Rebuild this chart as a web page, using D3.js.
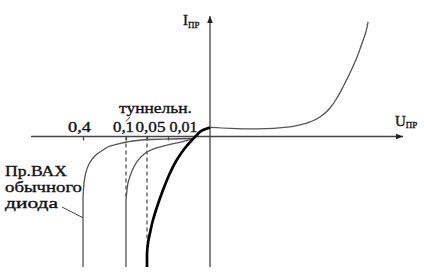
<!DOCTYPE html>
<html>
<head>
<meta charset="utf-8">
<script src="https://cdn.jsdelivr.net/npm/d3@7"></script>
<style>
  body { margin: 0; background: #fff; }
</style>
</head>
<body>
<div id="chart"></div>
<script>
// schematic I-V curves
const tickValues = [-0.4, -0.1, -0.05, -0.01]
const tickLabels = ["0,4", "0,1", "0,05", "0,01"]

// forward branch of the tunnel diode (right half)
const rightU = [0, 0.104, 0.244, 0.415, 0.466, 0.518, 0.570, 0.622, 0.658, 0.689, 0.725, 0.762, 0.788, 0.813, 0.819]
const rightI = [0.9, 0.8, 0.75, 0.95, 1.15, 1.45, 1.94, 2.84, 3.83, 4.93, 6.32, 7.92, 9.31, 10.81, 11.41]

// thick curve (0,05)
const thickU = [0, -0.00167, -0.0031, -0.00429, -0.00595, -0.00762, -0.00833, -0.00952, -0.0195, -0.031, -0.0386, -0.0443, -0.0481, -0.05, -0.05]
const thickI = [0.9, 0.65, 0.15, -0.35, -1.15, -2.14, -2.64, -3.64, -5.33, -7.02, -8.32, -9.61, -10.61, -11.8, -13]

// "туннельн." curve (0,1)
const tunnelU = [-0.00429, -0.00643, -0.0119, -0.0386, -0.0595, -0.0738, -0.0864, -0.0952, -0.0983, -0.1, -0.1]
const tunnelI = [-0.25, -0.52, -0.85, -1.25, -1.84, -2.51, -3.51, -4.63, -5.63, -6.33, -13]

// ordinary diode (0,4)
const ordinaryU = [-0.00429, -0.0095, -0.0443, -0.0738, -0.0976, -0.142, -0.212, -0.26, -0.302, -0.33, -0.358, -0.379, -0.39, -0.397, -0.4, -0.4]
const ordinaryI = [-0.2, -0.25, -0.3, -0.4, -0.55, -0.7, -0.95, -1.34, -1.75, -2.14, -2.74, -3.54, -4.33, -5.33, -6.33, -13]

const dashedU = [-0.1, -0.05]
const dashedI = [-6.3, -10.5]

const noteLines = ["Пр.ВАХ", "обычного", "диода"]

let width = 424
let height = 276
const serif = "'Liberation Serif'"

const svg = d3.select("#chart")
  .append("svg")
    .attr("width", width)
    .attr("height", height)

// the picture is schematic, so the voltage axis is piecewise
const x = d3.scaleLinear()
  .domain([-0.76, -0.4, -0.1, -0.05, -0.01, 0, 1])
  .range([31, 83, 126, 147, 168, 210, 403])

const y = d3.scaleLinear()
  .domain([-13, 12])
  .range([267, 16])

const axisColor = "#444"

// serif text, slightly heavy like the scanned original
function styleText(sel) {
  sel.style("font-family", serif)
    .attr("fill", "#111")
    .attr("stroke", "#111")
    .attr("stroke-width", 0.35)
}

svg.append("defs").append("marker")
    .attr("id", "arrow")
    .attr("viewBox", "0 0 10 10")
    .attr("refX", 10)
    .attr("refY", 5)
    .attr("markerWidth", 7)
    .attr("markerHeight", 7)
    .attr("markerUnits", "userSpaceOnUse")
    .attr("orient", "auto")
  .append("path")
    .attr("d", "M0,1L10,5L0,9Z")
    .attr("fill", "#222")

// axes
svg.append("line")
    .attr("x1", x(-0.76)).attr("x2", x(1))
    .attr("y1", y(0)).attr("y2", y(0))
    .attr("stroke", axisColor)
    .attr("stroke-width", 1.3)
    .attr("marker-end", "url(#arrow)")

svg.append("line")
    .attr("x1", x(0)).attr("x2", x(0))
    .attr("y1", y(-13)).attr("y2", y(12))
    .attr("stroke", axisColor)
    .attr("stroke-width", 1.3)
    .attr("marker-end", "url(#arrow)")

const labelShift = { "0,4": -4, "0,1": -3, "0,05": 3, "0,01": 15 }
const labelWidth = { "0,4": 23, "0,1": 21, "0,05": 30, "0,01": 28 }

const xAxis = svg.append("g")
    .attr("transform", "translate(0," + y(0) + ")")
    .call(d3.axisTop(x)
      .tickValues(tickValues)
      .tickFormat((d, i) => tickLabels[i])
      .tickSizeInner(-4)
      .tickSizeOuter(0)
      .tickPadding(4))
xAxis.select(".domain").remove()
xAxis.selectAll(".tick line").attr("stroke", axisColor).attr("stroke-width", 1.2)
xAxis.selectAll(".tick text")
    .call(styleText)
    .attr("font-size", 15)
    .attr("dx", (d, i) => labelShift[tickLabels[i]])
    .attr("textLength", (d, i) => labelWidth[tickLabels[i]])
    .attr("lengthAdjust", "spacingAndGlyphs")

// dashed guides
svg.selectAll(".guide")
  .data(dashedU)
  .enter().append("line")
    .attr("x1", d => x(d)).attr("x2", d => x(d))
    .attr("y1", y(0)).attr("y2", (d, i) => y(dashedI[i]))
    .attr("stroke", "#444")
    .attr("stroke-width", 1.2)
    .attr("stroke-dasharray", "4,3")

const zip = (us, is) => us.map((u, i) => [u, is[i]])

const lineY = d3.line()
  .x(d => x(d[0]))
  .y(d => y(d[1]))
  .curve(d3.curveMonotoneY)

const lineX = d3.line()
  .x(d => x(d[0]))
  .y(d => y(d[1]))
  .curve(d3.curveMonotoneX)

svg.append("path")
    .datum(zip(ordinaryU, ordinaryI))
    .attr("fill", "none")
    .attr("stroke", "#555")
    .attr("stroke-width", 1.3)
    .attr("d", lineY)

svg.append("path")
    .datum(zip(tunnelU, tunnelI))
    .attr("fill", "none")
    .attr("stroke", "#555")
    .attr("stroke-width", 1.3)
    .attr("d", lineY)

svg.append("path")
    .datum(zip(rightU, rightI))
    .attr("fill", "none")
    .attr("stroke", "#555")
    .attr("stroke-width", 1.3)
    .attr("d", lineX)

svg.append("path")
    .datum(zip(thickU, thickI))
    .attr("fill", "none")
    .attr("stroke", "#000")
    .attr("stroke-width", 2.7)
    .attr("d", lineY)

// axis titles
const iTitle = svg.append("text")
    .call(styleText)
    .attr("x", x(0) - 27)
    .attr("y", 25)
    .attr("font-size", 15)
iTitle.append("tspan").text("I")
iTitle.append("tspan").attr("font-size", 9).attr("dy", 3).text("ПР")

const uTitle = svg.append("text")
    .call(styleText)
    .attr("x", x(1) - 8)
    .attr("y", y(0) - 10)
    .attr("font-size", 15)
uTitle.append("tspan").text("U")
uTitle.append("tspan").attr("font-size", 9).attr("dy", 2).text("ПР")

// notes
svg.append("text")
    .call(styleText)
    .attr("x", 119)
    .attr("y", 113)
    .attr("font-size", 15)
    .attr("textLength", 73)
    .attr("lengthAdjust", "spacingAndGlyphs")
    .text("туннельн.")

svg.append("line")
    .attr("x1", 130).attr("y1", 117)
    .attr("x2", x(-0.1)).attr("y2", y(0) - 15)
    .attr("stroke", "#444")
    .attr("stroke-width", 1)

const noteWidth = [62, 77, 53]
svg.append("g")
  .selectAll("text")
  .data(noteLines)
  .enter().append("text")
    .call(styleText)
    .attr("x", 5)
    .attr("y", (d, i) => 176 + i * 16)
    .attr("font-size", 15)
    .attr("textLength", (d, i) => noteWidth[i])
    .attr("lengthAdjust", "spacingAndGlyphs")
    .text(d => d)

svg.append("line")
    .attr("x1", 62).attr("y1", 207)
    .attr("x2", x(-0.4)).attr("y2", y(-8.1))
    .attr("stroke", "#444")
    .attr("stroke-width", 1)
</script>
</body>
</html>
